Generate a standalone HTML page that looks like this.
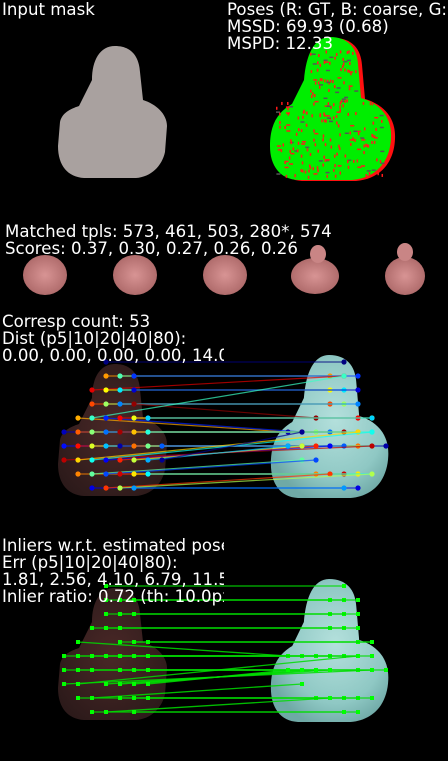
<!DOCTYPE html>
<html><head><meta charset="utf-8">
<style>
html,body{margin:0;padding:0;background:#000;}
svg{display:block;}
text{font-family:"DejaVu Sans","Liberation Sans",sans-serif;font-size:16.6px;fill:#fff;}
</style></head>
<body>
<svg id="fig" width="448" height="761" viewBox="0 0 448 761">
<defs>
<radialGradient id="cyanG" cx="0.55" cy="0.45" r="0.6">
<stop offset="0" stop-color="#b4e0dc"/><stop offset="0.7" stop-color="#8fc8c4"/><stop offset="1" stop-color="#6fa9a6"/>
</radialGradient>
<radialGradient id="brownG" cx="0.5" cy="0.5" r="0.6">
<stop offset="0" stop-color="#4a2827"/><stop offset="1" stop-color="#2c1a1a"/>
</radialGradient>
<radialGradient id="pinkG" cx="0.5" cy="0.5" r="0.6">
<stop offset="0" stop-color="#d89494"/><stop offset="1" stop-color="#a86464"/>
</radialGradient>
<clipPath id="leftClip"><rect x="0" y="0" width="224" height="761"/></clipPath>
<path id="maskShape" d="M115,46 C131,46 139,56 140,72 L143,100 C156,104 167,114 167,126 L165,152 C162,166 151,177 136,178 L84,178 C68,177 58,166 58,146 L60,122 C62,113 70,109 79,106 L92,80 C92,60 100,46 115,46 Z"/>
<path id="poseShape" d="M330,37 C348,37 357,48 358,64 L361,98 C381,104 392,118 391,138 C390,162 376,178 352,180 L298,180 C280,179 270,166 270,146 C270,124 278,112 292,104 L304,80 C306,55 314,37 330,37 Z"/>
</defs>

<!-- panel 1: input mask -->
<use href="#maskShape" fill="#a9a19f"/>
<text x="2" y="15">Input mask</text>

<!-- panel 2: poses -->
<use href="#poseShape" fill="#ff1010" transform="translate(4,1)"/>
<use href="#poseShape" fill="#00ee00"/>
<g id="speckle"></g>
<text x="227" y="15">Poses (R: GT, B: coarse, G: refined)</text>
<text x="227" y="32">MSSD: 69.93 (0.68)</text>
<text x="227" y="49">MSPD: 12.33</text>

<!-- templates -->
<g>
<ellipse cx="45" cy="275" rx="22" ry="20" fill="url(#pinkG)"/>
<ellipse cx="135" cy="275" rx="22" ry="20" fill="url(#pinkG)"/>
<ellipse cx="225" cy="275" rx="22" ry="20" fill="url(#pinkG)"/>
<ellipse cx="315" cy="276" rx="24" ry="18" fill="url(#pinkG)"/>
<ellipse cx="405" cy="276" rx="20" ry="19" fill="url(#pinkG)"/>
<ellipse cx="318" cy="254" rx="8" ry="9" fill="#c98585"/>
<ellipse cx="405" cy="252" rx="8" ry="9" fill="#c98585"/>
</g>
<text x="5" y="237">Matched tpls: 573, 461, 503, 280*, 574</text>
<text x="5" y="254">Scores: 0.37, 0.30, 0.27, 0.26, 0.26</text>

<!-- panel 3: correspondences -->
<use href="#maskShape" fill="url(#brownG)" transform="translate(0,318)"/>
<use href="#poseShape" fill="url(#cyanG)" transform="translate(9,318) scale(0.97 1)"/>
<g id="corr"></g>
<g clip-path="url(#leftClip)">
<text x="2" y="327">Corresp count: 53</text>
<text x="2" y="344">Dist (p5|10|20|40|80):</text>
<text x="2" y="361">0.00, 0.00, 0.00, 0.00, 14.00</text>
</g>

<!-- panel 4: inliers -->
<use href="#maskShape" fill="url(#brownG)" transform="translate(0,542)"/>
<use href="#poseShape" fill="url(#cyanG)" transform="translate(9,542) scale(0.97 1)"/>
<g id="inl"></g>
<g clip-path="url(#leftClip)">
<text x="2" y="551">Inliers w.r.t. estimated pose</text>
<text x="2" y="568">Err (p5|10|20|40|80):</text>
<text x="2" y="585">1.81, 2.56, 4.10, 6.79, 11.50</text>
<text x="2" y="602">Inlier ratio: 0.72 (th: 10.0px)</text>
</g>
</svg>
<script>
// correspondences: grid indices (src col,row) -> (dst col,row)
const srcCol = [3,3,4,5,2,3,4,5,2,3,4,5,1,2,3,4,5,6,0,1,2,3,4,5,6,0,1,2,3,4,5,6,7,0,1,2,3,4,5,6,7,1,2,3,4,5,6,2,3,4,5];
const srcRow = [0,1,1,1,2,2,2,2,3,3,3,3,4,4,4,4,4,4,5,5,5,5,5,5,5,6,6,6,6,6,6,6,6,7,7,7,7,7,7,7,7,8,8,8,8,8,8,9,9,9,9];
const dstCol = [4,3,4,5,4,3,4,5,3,4,5,2,0,4,1,5,6,6,0,1,2,3,4,5,6,0,1,2,3,7,5,6,4,6,5,6,3,2,1,0,1,2,1,2,4,5,6,5,3,6,4];
const dstRow = [0,1,1,1,1,2,2,2,3,3,3,4,5,1,5,4,4,4,5,5,5,5,5,5,5,6,6,6,6,6,6,6,6,6,5,5,6,6,6,6,5,8,7,7,8,8,8,9,8,8,9];
const inlier = [1,1,1,1,0,1,1,1,1,1,1,0,1,0,0,1,1,1,1,1,1,1,1,1,1,1,1,1,0,1,1,1,0,1,1,0,1,1,1,1,0,1,1,0,1,1,1,1,1,0,1];
const xL = c => 64 + 14*c;
const xR = c => 288 + 14*c;
const yRow = (r, base) => base + 14*r;
const NS = 'http://www.w3.org/2000/svg';
function jet(t){
  const f = x => Math.max(0, Math.min(1, 1.5 - Math.abs(x)));
  return 'rgb(' + Math.round(255*f(4*t-3)) + ',' + Math.round(255*f(4*t-2)) + ',' + Math.round(255*f(4*t-1)) + ')';
}
const corr = document.getElementById('corr');
const inl = document.getElementById('inl');
const n = srcCol.length;
for (let i = 0; i < n; i++) {
  const col = jet(((i * 37) % n) / n);
  const x1 = xL(srcCol[i]), y1 = yRow(srcRow[i], 362), x2 = xR(dstCol[i]), y2 = yRow(dstRow[i], 362);
  const ln = document.createElementNS(NS, 'line');
  ln.setAttribute('x1', x1); ln.setAttribute('y1', y1); ln.setAttribute('x2', x2); ln.setAttribute('y2', y2);
  ln.setAttribute('stroke', col); ln.setAttribute('stroke-width', '1.2'); ln.setAttribute('opacity', '0.7');
  
  
  corr.appendChild(ln);
  [[x1,y1],[x2,y2]].forEach(p => {
    const c = document.createElementNS(NS, 'circle');
    c.setAttribute('cx', p[0]); c.setAttribute('cy', p[1]); c.setAttribute('r', '2.6'); c.setAttribute('fill', col);
    
    
    corr.appendChild(c);
  });
  if (inlier[i]) {
    const a1 = yRow(srcRow[i], 586), a2 = yRow(dstRow[i], 586);
    const l2 = document.createElementNS(NS, 'line');
    l2.setAttribute('x1', x1); l2.setAttribute('y1', a1); l2.setAttribute('x2', x2); l2.setAttribute('y2', a2);
    l2.setAttribute('stroke', '#00dd00'); l2.setAttribute('stroke-width', '1.3'); l2.setAttribute('opacity', '0.85');
    
    
    inl.appendChild(l2);
    [[x1,a1],[x2,a2]].forEach(p => {
      const r = document.createElementNS(NS, 'rect');
      r.setAttribute('x', p[0]-2); r.setAttribute('y', p[1]-2); r.setAttribute('width', 4); r.setAttribute('height', 4); r.setAttribute('fill', '#00ff00');
      
      
      inl.appendChild(r);
    });
  }
}
// deterministic speckle of red marks on green pose
const sp = document.getElementById('speckle');
let s = 7;
for (let k = 0; k < 320; k++) {
  s = (s * 9301 + 49297) % 233280;
  const u = s / 233280;
  s = (s * 9301 + 49297) % 233280;
  const v = s / 233280;
  const x = 276 + u*108, y = 50 + v*126;
  if (y < 100 && (x < 310 || x > 356)) continue;
  const r = document.createElementNS(NS, 'rect');
  r.setAttribute('x', x); r.setAttribute('y', y);
  r.setAttribute('width', k%3 ? 1.5 : 4); r.setAttribute('height', k%3 ? 3 : 1.5);
  r.setAttribute('fill', k%6 ? '#ff1a1a' : '#555');
  
  
  sp.appendChild(r);
}
</script>
</body></html>
